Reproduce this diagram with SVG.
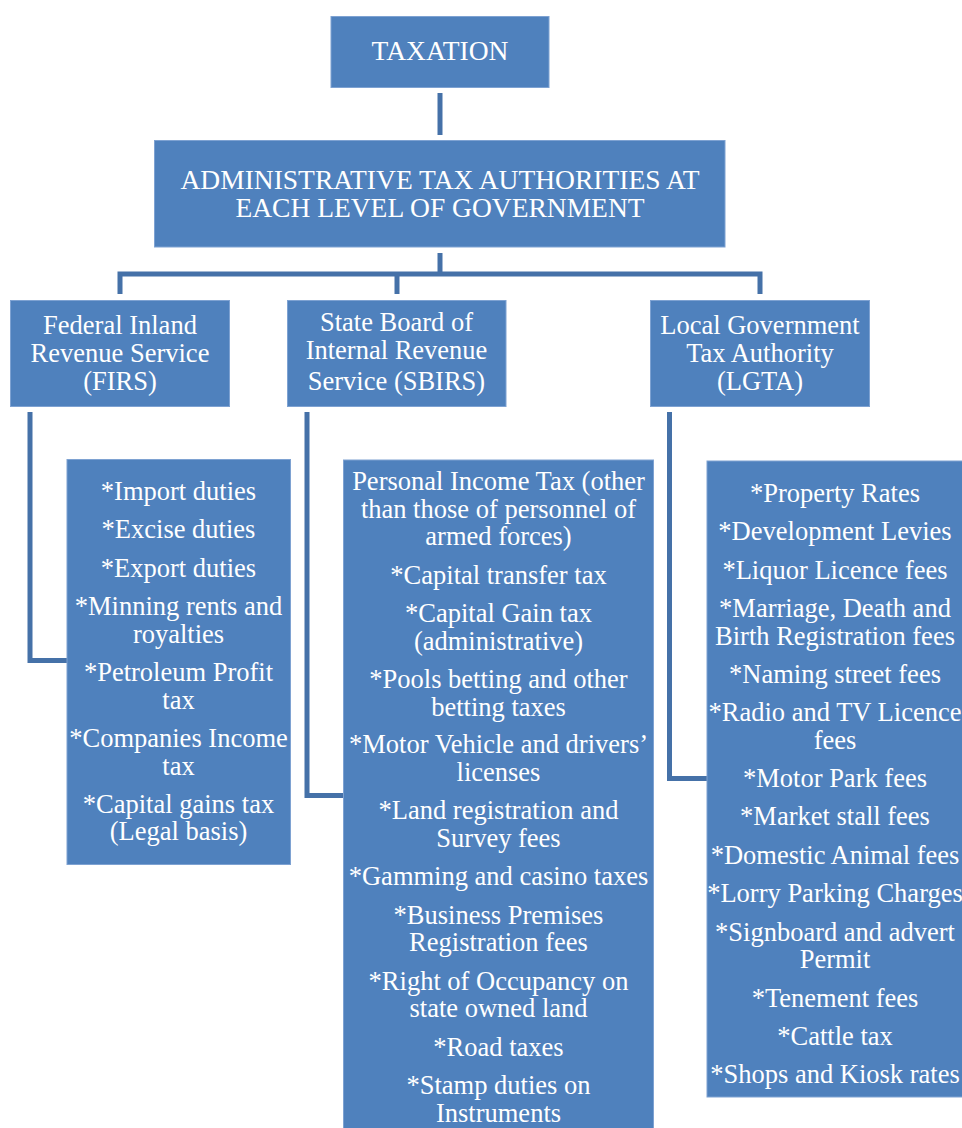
<svg xmlns="http://www.w3.org/2000/svg" width="962" height="1128" viewBox="0 0 962 1128">
<style>
.box{fill:#4F81BD;stroke:#7EA2D2;stroke-width:1}
.t{font-family:'Liberation Serif','Times New Roman','DejaVu Serif',serif;font-size:26.5px;fill:#FFFFFF;text-anchor:middle}
.big{font-size:27.5px}
.c{fill:none;stroke:#4571A8;stroke-width:5;stroke-linejoin:miter}
</style>
<rect width="962" height="1128" fill="#FFFFFF"/>
<g id="connectors">
<line class="c" x1="440" y1="93" x2="440" y2="135"/>
<line class="c" x1="440" y1="253" x2="440" y2="274"/>
<polyline class="c" points="120,294 120,274 760,274 760,294"/>
<line class="c" x1="397" y1="274" x2="397" y2="294"/>
<polyline class="c" points="30,412 30,660.5 68,660.5"/>
<polyline class="c" points="307,412 307,795.5 345,795.5"/>
<polyline class="c" points="669.5,412 669.5,778.5 708,778.5"/>
</g>
<g id="taxation">
<rect class="box" x="331" y="16.5" width="218" height="71"/>
<text class="t big" x="440" y="60">TAXATION</text>
</g>
<g id="admin">
<rect class="box" x="154.5" y="140.5" width="570.5" height="106.5"/>
<text class="t big" x="440" y="189">ADMINISTRATIVE TAX AUTHORITIES AT</text>
<text class="t big" x="440" y="217">EACH LEVEL OF GOVERNMENT</text>
</g>
<g id="firs">
<rect class="box" x="10.5" y="300.5" width="219" height="106"/>
<text class="t" x="120" y="334">Federal Inland</text>
<text class="t" x="120" y="362">Revenue Service</text>
<text class="t" x="120" y="390">(FIRS)</text>
</g>
<g id="sbirs">
<rect class="box" x="287.5" y="300.5" width="218.5" height="106"/>
<text class="t" x="396.5" y="331">State Board of</text>
<text class="t" x="396.5" y="359">Internal Revenue</text>
<text class="t" x="396.5" y="390">Service (SBIRS)</text>
</g>
<g id="lgta">
<rect class="box" x="650.5" y="300.5" width="219" height="106"/>
<text class="t" x="760" y="334">Local Government</text>
<text class="t" x="760" y="362">Tax Authority</text>
<text class="t" x="760" y="390">(LGTA)</text>
</g>
<g id="firs-list">
<rect class="box" x="67" y="459.5" width="223.5" height="405"/>
<text class="t" x="178.5" y="500">*Import duties</text>
<text class="t" x="178.5" y="538">*Excise duties</text>
<text class="t" x="178.5" y="577">*Export duties</text>
<text class="t" x="178.5" y="615">*Minning rents and</text>
<text class="t" x="178.5" y="643">royalties</text>
<text class="t" x="178.5" y="681">*Petroleum Profit</text>
<text class="t" x="178.5" y="709">tax</text>
<text class="t" x="178.5" y="747">*Companies Income</text>
<text class="t" x="178.5" y="775">tax</text>
<text class="t" x="178.5" y="813">*Capital gains tax</text>
<text class="t" x="178.5" y="840">(Legal basis)</text>
</g>
<g id="sbirs-list">
<rect class="box" x="343.5" y="460" width="310" height="680"/>
<text class="t" x="498.5" y="490">Personal Income Tax (other</text>
<text class="t" x="498.5" y="518">than those of personnel of</text>
<text class="t" x="498.5" y="545">armed forces)</text>
<text class="t" x="498.5" y="584">*Capital transfer tax</text>
<text class="t" x="498.5" y="622">*Capital Gain tax</text>
<text class="t" x="498.5" y="650">(administrative)</text>
<text class="t" x="498.5" y="688">*Pools betting and other</text>
<text class="t" x="498.5" y="716">betting taxes</text>
<text class="t" x="498.5" y="753">*Motor Vehicle and drivers’</text>
<text class="t" x="498.5" y="781">licenses</text>
<text class="t" x="498.5" y="819">*Land registration and</text>
<text class="t" x="498.5" y="847">Survey fees</text>
<text class="t" x="498.5" y="885">*Gamming and casino taxes</text>
<text class="t" x="498.5" y="924">*Business Premises</text>
<text class="t" x="498.5" y="951">Registration fees</text>
<text class="t" x="498.5" y="990">*Right of Occupancy on</text>
<text class="t" x="498.5" y="1017">state owned land</text>
<text class="t" x="498.5" y="1056">*Road taxes</text>
<text class="t" x="498.5" y="1094">*Stamp duties on</text>
<text class="t" x="498.5" y="1122">Instruments</text>
</g>
<g id="lgta-list">
<rect class="box" x="707" y="461" width="260" height="636"/>
<text class="t" x="835" y="502">*Property Rates</text>
<text class="t" x="835" y="540">*Development Levies</text>
<text class="t" x="835" y="579">*Liquor Licence fees</text>
<text class="t" x="835" y="617">*Marriage, Death and</text>
<text class="t" x="835" y="645">Birth Registration fees</text>
<text class="t" x="835" y="683">*Naming street fees</text>
<text class="t" x="835" y="721">*Radio and TV Licence</text>
<text class="t" x="835" y="749">fees</text>
<text class="t" x="835" y="787">*Motor Park fees</text>
<text class="t" x="835" y="825">*Market stall fees</text>
<text class="t" x="835" y="864">*Domestic Animal fees</text>
<text class="t" x="835" y="902">*Lorry Parking Charges</text>
<text class="t" x="835" y="941">*Signboard and advert</text>
<text class="t" x="835" y="968">Permit</text>
<text class="t" x="835" y="1007">*Tenement fees</text>
<text class="t" x="835" y="1045">*Cattle tax</text>
<text class="t" x="835" y="1083">*Shops and Kiosk rates</text>
</g>
</svg>
